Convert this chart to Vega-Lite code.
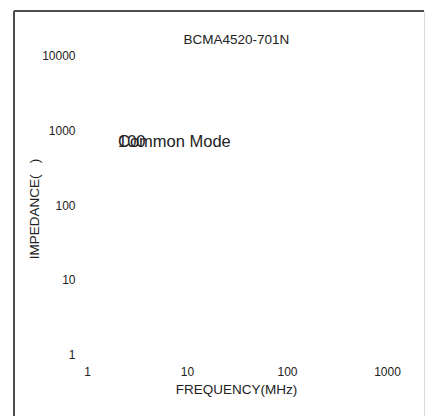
{
  "$schema": "https://vega.github.io/schema/vega-lite/v6.json",
  "width": 410,
  "height": 405,
  "autosize": {"type": "none"},
  "padding": {"left": 14, "top": 11, "right": 1, "bottom": 0},
  "background": "white",
  "config": {"view": {"stroke": null}, "font": "Liberation Sans"},
  "title": {
    "text": "BCMA4520-701N",
    "fontSize": 13.5,
    "fontWeight": "normal",
    "color": "#222222",
    "anchor": "middle",
    "frame": "group",
    "baseline": "alphabetic",
    "dx": 17.4,
    "dy": 50.5
  },
  "data": {
    "values": [
      {"freq": 2.04, "imp": 603, "label": "Common Mode"},
      {"freq": 2.04, "imp": 603, "label": "100"}
    ]
  },
  "resolve": {"axis": {"x": "independent", "y": "independent"}},
  "layer": [
    {
      "mark": {"type": "text", "align": "left", "baseline": "alphabetic", "fontSize": 16.5, "color": "#222222"},
      "encoding": {
        "x": {
          "field": "freq",
          "type": "quantitative",
          "scale": {"type": "log", "domain": [0.1862, 2344], "nice": false, "zero": false},
          "axis": {
            "orient": "bottom",
            "values": [1, 10, 100, 1000],
            "format": "d",
            "domain": false,
            "ticks": false,
            "grid": false,
            "labelFlush": false,
            "labelOverlap": false,
            "labelPadding": -40.5,
            "labelBaseline": "alphabetic",
            "labelFontSize": 12,
            "labelColor": "#222222",
            "title": "FREQUENCY(MHz)",
            "titleFontSize": 13.5,
            "titleFontWeight": "normal",
            "titleColor": "#222222",
            "titleX": 222,
            "titleY": -23,
            "titleAlign": "center",
            "titleBaseline": "alphabetic"
          }
        },
        "y": {
          "field": "imp",
          "type": "quantitative",
          "scale": {"type": "log", "domain": [0.1526, 40270], "nice": false, "zero": false},
          "axis": {
            "orient": "left",
            "values": [1, 10, 100, 1000, 10000],
            "format": "d",
            "domain": true,
            "domainColor": "#4d4d4d",
            "domainWidth": 2,
            "translate": 0,
            "ticks": false,
            "grid": false,
            "labelFlush": false,
            "labelOverlap": false,
            "labelPadding": -61.5,
            "labelAlign": "right",
            "labelBaseline": "middle",
            "labelFontSize": 12,
            "labelColor": "#222222",
            "title": "IMPEDANCE(\u00a0\u00a0\u00a0)",
            "titleFontSize": 13.5,
            "titleFontWeight": "normal",
            "titleColor": "#222222",
            "titleAngle": 270,
            "titleX": 21,
            "titleY": 198,
            "titleAlign": "center",
            "titleBaseline": "middle"
          }
        },
        "text": {"field": "label"}
      }
    },
    {
      "mark": {"type": "point", "opacity": 0},
      "encoding": {
        "x": {
          "field": "freq",
          "type": "quantitative",
          "axis": {
            "orient": "top",
            "labels": false,
            "ticks": false,
            "grid": false,
            "domain": true,
            "domainColor": "#4d4d4d",
            "domainWidth": 2,
            "translate": 0,
            "title": null
          }
        },
        "y": {
          "field": "imp",
          "type": "quantitative",
          "axis": {
            "orient": "right",
            "labels": false,
            "ticks": false,
            "grid": false,
            "domain": true,
            "domainColor": "#d9d9d9",
            "domainWidth": 1,
            "title": null
          }
        }
      }
    }
  ]
}
